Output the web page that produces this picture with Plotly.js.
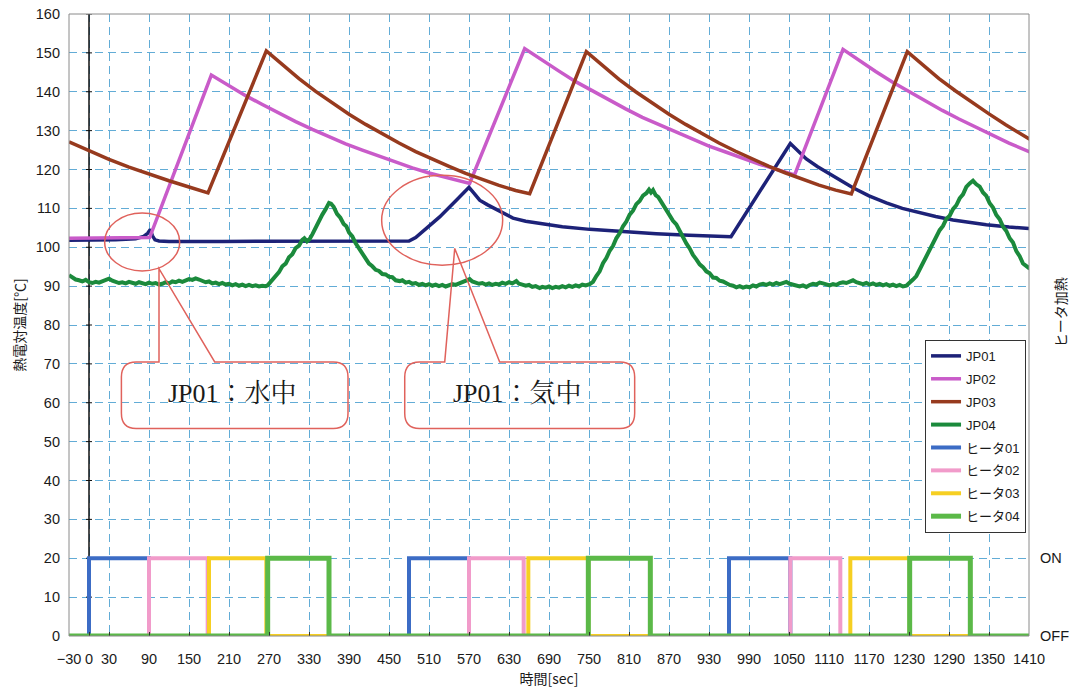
<!DOCTYPE html>
<html><head><meta charset="utf-8">
<script src="https://cdn.plot.ly/plotly-3.0.1.min.js"></script>
<style>html,body{margin:0;padding:0;background:#fff}#chart{width:1074px;height:690px}</style>
</head><body><div id="chart"></div>
<script>
// ---- data (time in sec, temperature in ℃) ----
const jp01_t = [-30, 40, 70, 82, 88, 92, 95, 99, 105, 120, 200, 300, 400, 480, 490, 501, 513, 526, 538, 551, 562, 570, 578, 586, 598, 611, 623, 636, 655, 676, 710, 751, 800, 851, 900, 963, 1052, 1064, 1076, 1093, 1111, 1128, 1146, 1170, 1196, 1220, 1246, 1270, 1296, 1320, 1346, 1380, 1410];
const jp01_v = [101.8, 101.9, 102.2, 102.8, 103.6, 104.6, 103.0, 101.9, 101.6, 101.5, 101.5, 101.5, 101.5, 101.6, 102.5, 104.0, 105.9, 107.8, 110.0, 112.1, 114.0, 115.4, 113.8, 112.1, 110.9, 109.8, 108.6, 107.5, 106.7, 106.1, 105.3, 104.6, 104.0, 103.5, 103.1, 102.7, 126.7, 124.6, 122.7, 120.7, 118.9, 117.0, 115.3, 113.2, 111.4, 110.0, 108.8, 107.9, 107.0, 106.4, 105.8, 105.2, 104.8];

const jp02_t = [-30, 85, 91, 183.5, 210, 235, 260, 285, 310, 335, 360, 385, 410, 435, 460, 485, 510, 535, 560, 571, 653.5, 680, 705, 730, 755, 780, 805, 830, 855, 880, 905, 930, 955, 980, 1005, 1030, 1058.5, 1131, 1155, 1180, 1205, 1230, 1255, 1280, 1305, 1330, 1355, 1380, 1411];
const jp02_v = [102.3, 102.3, 102.5, 144.3, 141.5, 139.0, 136.7, 134.4, 132.3, 130.3, 128.4, 126.6, 125.0, 123.4, 121.8, 120.4, 119.1, 117.9, 116.8, 116.4, 151.1, 148.0, 145.3, 142.6, 140.2, 137.8, 135.6, 133.4, 131.5, 129.6, 127.8, 126.0, 124.5, 122.9, 121.4, 120.1, 118.6, 150.9, 148.0, 145.2, 142.5, 140.0, 137.5, 135.2, 133.0, 130.9, 128.8, 126.8, 124.5];

const jp03_t = [-30, 0, 30, 60, 90, 120, 150, 178.5, 266, 290, 315, 340, 365, 390, 415, 440, 465, 490, 515, 540, 565, 590, 615, 640, 661, 746, 770, 795, 820, 845, 870, 895, 920, 945, 970, 995, 1020, 1045, 1070, 1095, 1120, 1143.5, 1227.5, 1250, 1275, 1300, 1325, 1350, 1375, 1400, 1411];
const jp03_v = [127.1, 124.8, 122.6, 120.6, 118.8, 117.1, 115.5, 114.0, 150.5, 146.9, 143.4, 140.1, 137.1, 134.2, 131.6, 129.1, 126.8, 124.6, 122.6, 120.8, 119.0, 117.4, 115.9, 114.6, 113.8, 150.3, 146.7, 143.2, 140.0, 137.0, 134.2, 131.6, 129.1, 126.8, 124.7, 122.7, 120.8, 119.1, 117.5, 116.0, 114.7, 113.7, 150.3, 146.9, 143.4, 140.2, 137.2, 134.3, 131.5, 128.9, 127.8];

const jp04_t = [-30, -25, -20, -15, -10, -5, 0, 5, 10, 15, 20, 25, 30, 35, 40, 45, 50, 55, 60, 65, 70, 75, 80, 85, 90, 95, 100, 105, 110, 115, 120, 125, 130, 135, 140, 145, 150, 155, 160, 165, 170, 175, 180, 185, 190, 195, 200, 205, 210, 215, 220, 225, 230, 235, 240, 245, 250, 255, 260, 265, 268,
  275, 280, 285, 290, 295, 300, 305, 310, 315, 320, 323, 327, 331, 335, 340, 345, 350, 355, 360, 363, 367, 372, 377, 382, 386, 390, 395, 400, 405, 410, 415, 420, 425, 430, 435, 440, 445, 450, 455, 460, 466,
  470, 475, 480, 485, 490, 495, 500, 505, 510, 515, 520, 525, 530, 535, 541, 545, 550, 555, 560, 565, 571, 575, 580, 585, 590, 595, 600, 605, 610, 615, 620, 625, 630, 635, 641, 645, 650, 655, 660, 665, 670, 676, 680, 685, 690, 695, 700, 705, 710, 715, 720, 725, 730, 735, 740, 745, 751,
  756, 761, 766, 771, 776, 781, 786, 791, 796, 801, 806, 811, 816, 821, 826, 831, 836, 840, 843, 846, 850, 854, 858, 862, 866, 871, 876, 881, 886, 891, 896, 901, 906, 911, 916, 921, 926, 931, 936, 941, 946, 951, 956, 961,
  966, 971, 976, 981, 986, 991, 996, 1001, 1006, 1011, 1016, 1021, 1026, 1031, 1036, 1041, 1046, 1051, 1056, 1061, 1066, 1071, 1076, 1081, 1086, 1091, 1096, 1101, 1106, 1111, 1116, 1121, 1126, 1131, 1136, 1141, 1146, 1151, 1156, 1161, 1166, 1171, 1176, 1181, 1186, 1191, 1196, 1201, 1206, 1211, 1216, 1221, 1226,
  1231, 1236, 1241, 1246, 1251, 1256, 1261, 1266, 1271, 1276, 1281, 1286, 1291, 1296, 1301, 1306, 1311, 1316, 1321, 1326, 1331, 1336, 1341, 1346, 1351, 1356, 1361, 1366, 1371, 1376, 1381, 1386, 1391, 1396, 1401, 1406, 1411];
const jp04_v = [92.8, 92.2, 91.7, 91.5, 91.2, 91.6, 91.0, 90.8, 91.1, 90.9, 91.3, 91.5, 91.9, 91.4, 91.2, 90.8, 91.0, 90.7, 91.1, 90.9, 90.6, 91.0, 90.8, 90.5, 90.9, 90.6, 90.8, 90.4, 90.6, 91.0, 90.7, 91.2, 91.0, 91.4, 91.1, 91.5, 91.8, 91.6, 92.0, 91.7, 91.3, 91.0, 91.2, 90.7, 90.9, 90.5, 90.8, 90.4, 90.6, 90.2, 90.5, 90.1, 90.4, 90.0, 90.3, 90.0, 90.2, 89.9, 90.1, 90.0, 90.2,
  91.6, 92.9, 93.6, 95.1, 95.8, 97.4, 98.2, 99.8, 100.4, 101.9, 102.3, 101.5, 102.1, 103.3, 105.2, 106.5, 108.4, 109.8, 111.4, 111.2, 110.4, 108.6, 107.6, 106.0, 105.4, 103.8, 102.8, 101.0, 99.8, 98.2, 97.2, 95.8, 95.1, 94.2, 93.9, 93.1, 93.0, 92.4, 92.3, 91.5, 91.3,
  91.5, 90.9, 91.1, 90.6, 90.8, 90.3, 90.6, 90.2, 90.5, 90.1, 90.4, 90.0, 90.3, 89.9, 90.2, 90.5, 90.3, 90.7, 90.9, 91.4, 91.8, 91.2, 91.0, 90.6, 90.8, 90.4, 90.7, 90.3, 90.6, 90.4, 90.9, 90.6, 91.0, 90.7, 91.3, 90.6, 90.4, 90.1, 90.3, 89.8, 90.0, 89.5, 89.8, 89.6, 89.9, 89.5, 89.8, 89.6, 90.0, 89.7, 90.1, 89.8, 90.2, 89.9, 90.4, 90.2, 90.5,
  91.1, 92.6, 93.8, 95.9, 97.2, 99.1, 100.3, 102.3, 103.6, 105.4, 106.6, 108.4, 109.4, 111.1, 111.9, 113.3, 113.9, 114.8, 114.1, 114.7, 113.4, 112.9, 111.8, 110.9, 109.4, 108.4, 106.8, 105.9, 104.2, 102.9, 101.0, 99.7, 98.0, 96.9, 95.6, 94.9, 93.8, 93.3, 92.2, 92.1, 91.4, 91.2, 90.6, 90.3,
  90.1, 89.7, 90.0, 89.6, 89.9, 89.7, 90.2, 89.9, 90.4, 90.6, 90.3, 90.7, 90.4, 90.8, 90.5, 90.9, 91.1, 90.6, 90.3, 90.1, 89.9, 90.2, 89.8, 90.3, 90.6, 90.4, 90.9, 90.7, 90.5, 90.2, 90.5, 90.3, 90.8, 91.0, 90.8, 91.2, 91.5, 91.0, 90.8, 90.5, 90.8, 90.4, 90.7, 90.3, 90.6, 90.2, 90.5, 90.1, 90.4, 90.0, 90.3, 89.9, 90.1,
  90.8, 91.7, 92.6, 94.3, 95.6, 97.8, 99.2, 101.2, 102.5, 104.4, 105.5, 107.3, 108.1, 109.8, 110.8, 112.6, 113.6, 115.5, 116.4, 117.1, 116.2, 115.6, 114.1, 113.2, 111.3, 110.2, 108.3, 107.2, 105.3, 104.2, 102.3, 101.2, 99.0, 97.7, 95.8, 95.1, 94.5];

// heater switching times (step: value holds until next time)
const heater1_t = [-30, 0, 90, 480, 570, 960, 1052, 1410];
const heater2_t = [-30, 90, 178, 570, 652, 1052, 1127, 1410];
const heater3_t = [-30, 180, 266, 659, 749, 1142, 1231, 1410];
const heater4_t = [-30, 268, 360, 749, 842, 1231, 1322, 1410];
const heater_v  = [0, 20, 0, 20, 0, 20, 0, 0];

const xTickVals = [-30, 0, 30, 90, 150, 210, 270, 330, 390, 450, 510, 570, 630, 690, 750, 810, 870, 930, 990, 1050, 1110, 1170, 1230, 1290, 1350, 1410];
const seriesNames = ['JP01', 'JP02', 'JP03', 'JP04', 'ヒータ01', 'ヒータ02', 'ヒータ03', 'ヒータ04'];
const seriesColors = ['#1d2278', '#c95bc9', '#973a1e', '#1b8a3c', '#3c6cc5', '#f19bca', '#f6cf22', '#5bb948'];
const callout1Text = 'JP01：水中';
const callout2Text = 'JP01：気中';

// ---- traces ----
const temps = [[jp01_t, jp01_v], [jp02_t, jp02_v], [jp03_t, jp03_v], [jp04_t, jp04_v]];
const heaters = [heater1_t, heater2_t, heater3_t, heater4_t];
const traces = [];
temps.forEach((d, i) => traces.push({
  x: d[0], y: d[1], type: 'scatter', mode: 'lines', name: seriesNames[i], legendgroup: 'g' + i,
  line: {color: seriesColors[i], width: i === 3 ? 4 : 3.5}
}));
heaters.forEach((t, i) => traces.push({
  x: t, y: heater_v, type: 'scatter', mode: 'lines', name: seriesNames[4 + i], legendgroup: 'g' + (4 + i),
  yaxis: 'y2', line: {color: seriesColors[4 + i], width: i === 3 ? 5 : 4, shape: 'hv'}
}));

// ---- callouts ----
function calloutPath(L, R, T, B, pL, ax, ay, pR, rx, ry) {
  return `M${L+rx},${T} L${pL},${T} L${ax},${ay} L${pR},${T} L${R-rx},${T} Q${R},${T} ${R},${T-ry} ` +
         `L${R},${B+ry} Q${R},${B} ${R-rx},${B} L${L+rx},${B} Q${L},${B} ${L},${B+ry} L${L},${T-ry} Q${L},${T} ${L+rx},${T} Z`;
}
const red = '#e0625c';
const shapes = [
  {type: 'line', xref: 'x', yref: 'y', x0: 0, x1: 0, y0: 0, y1: 160, line: {color: '#111', width: 1.5}, layer: 'between'},
  {type: 'rect', xref: 'paper', yref: 'paper', x0: 0, x1: 1, y0: 0, y1: 1, line: {color: '#8a8a8a', width: 1}},
  {type: 'circle', xref: 'x', yref: 'y', x0: 23.5, x1: 136, y0: 93.9, y1: 108.8, line: {color: red, width: 1.5}},
  {type: 'circle', xref: 'x', yref: 'y', x0: 439, x1: 620.5, y0: 95.4, y1: 118.5, line: {color: red, width: 1.5}},
  {type: 'path', xref: 'x', yref: 'y', path: calloutPath(48.6, 388.5, 70.5, 53.4, 105, 105, 94.5, 188.6, 22, 3.9), line: {color: red, width: 1.5}},
  {type: 'path', xref: 'x', yref: 'y', path: calloutPath(473.6, 818.5, 70.5, 53.4, 533.6, 548.6, 99.7, 616, 22, 3.9), line: {color: red, width: 1.5}}
];
for (let v = 0; v <= 160; v += 10) {
  shapes.push({type: 'line', xref: 'x', yref: 'y', xsizemode: 'pixel', xanchor: 0, x0: -3, x1: 3, y0: v, y1: v, line: {color: '#111', width: 1}, layer: 'between'});
}

const tickFont = {family: 'Liberation Sans, Arial, sans-serif', size: 14.5, color: '#1a1a1a'};
const titleFont = {family: 'Noto Sans CJK JP, sans-serif', size: 14, color: '#1a1a1a'};
const serif = 'Liberation Serif, Noto Serif CJK JP, Noto Sans CJK JP, serif';

const layout = {
  width: 1074, height: 690,
  margin: {l: 69, r: 45, t: 14, b: 54},
  paper_bgcolor: '#fff', plot_bgcolor: '#fff',
  showlegend: true,
  xaxis: {
    range: [-30, 1410], tickvals: xTickVals, tickfont: tickFont,
    showgrid: true, gridcolor: '#62acd6', griddash: '8px,5px', gridwidth: 1,
    zeroline: false, showline: false, ticks: 'inside', ticklen: 4, tickcolor: '#333',
    ticklabelstandoff: 12,
    title: {text: '時間[sec]', font: titleFont, standoff: 8}
  },
  yaxis: {
    range: [0, 160], dtick: 10, tickfont: tickFont,
    showgrid: true, gridcolor: '#62acd6', griddash: '8px,5px', gridwidth: 1,
    zeroline: false, showline: false, ticks: '', ticklabelstandoff: 8,
    title: {text: '熱電対温度[℃]', font: titleFont, standoff: 6}
  },
  yaxis2: {
    range: [0, 160], overlaying: 'y', side: 'right', tickvals: [0, 20], ticktext: ['OFF', 'ON'],
    tickfont: tickFont, showgrid: false, zeroline: false, showline: false, ticks: '', ticklabelstandoff: 10
  },
  legend: {
    x: 0.8917, y: 0.476, xanchor: 'left', yanchor: 'top',
    bgcolor: '#fff', bordercolor: '#333', borderwidth: 1,
    font: {family: 'Liberation Sans, Noto Sans CJK JP, sans-serif', size: 13, color: '#1a1a1a'},
    tracegroupgap: 3, traceorder: 'grouped'
  },
  shapes: shapes,
  annotations: [
    {text: callout1Text, xref: 'x', yref: 'y', x: 215, y: 62.5, showarrow: false, font: {family: serif, size: 26, color: '#1a1a1a'}},
    {text: callout2Text, xref: 'x', yref: 'y', x: 643, y: 62.5, showarrow: false, font: {family: serif, size: 26, color: '#1a1a1a'}},
    {text: 'ヒータ加熱', xref: 'paper', yref: 'paper', x: 1.032, y: 0.52, xanchor: 'center', yanchor: 'middle', textangle: -90, showarrow: false, font: titleFont}
  ]
};

Plotly.newPlot('chart', traces, layout, {displayModeBar: false, staticPlot: true});
</script>
</body></html>
